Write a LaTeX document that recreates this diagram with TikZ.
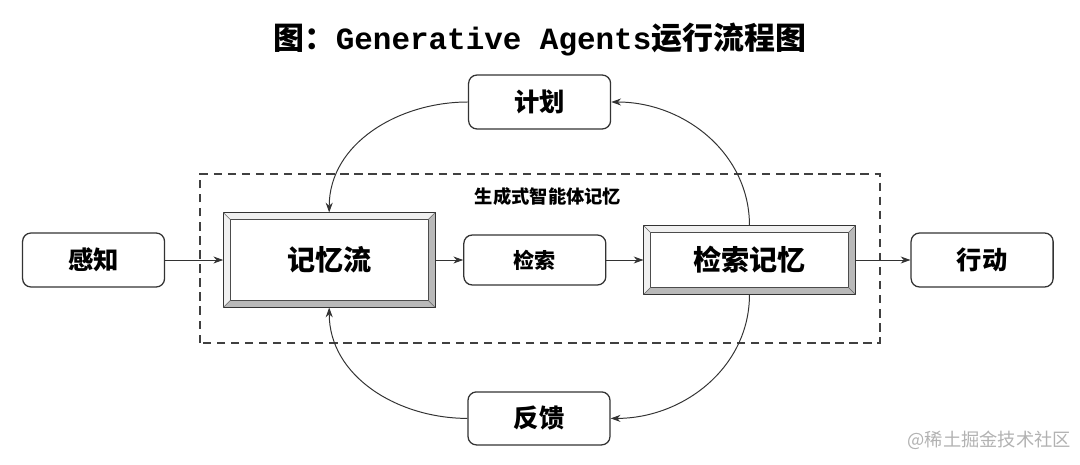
\documentclass[tikz,border=0pt]{standalone}
\usepackage{fontspec}
\setmainfont{Noto Sans CJK SC}
\setmonofont{Liberation Mono}
\usetikzlibrary{positioning,calc,arrows.meta}

\tikzset{
	roundbox/.style={draw=black!80, line width=0.9pt, rounded corners=6pt, fill=white,
		minimum width=3.55cm, minimum height=1.35cm, inner sep=0pt,
		font=\bfseries\fontsize{18}{20}\selectfont},
	bevelnode/.style={minimum width=5.3cm, inner sep=0pt, outer sep=0pt,
		font=\bfseries\fontsize{20}{22}\selectfont},
	flow/.style={-{Stealth[length=7pt,width=5pt]}, line width=0.7pt, black!80},
}

\newcommand{\bevelframe}[1]{%
	\fill[gray!12] (#1.south west) -- (#1.north west) -- (#1.north east)
		-- ($(#1.north east)+(-0.18,-0.18)$) -- ($(#1.north west)+(0.18,-0.18)$)
		-- ($(#1.south west)+(0.18,0.18)$) -- cycle;
	\fill[gray!55] (#1.south west) -- ($(#1.south west)+(0.18,0.18)$)
		-- ($(#1.south east)+(-0.18,0.18)$) -- ($(#1.north east)+(-0.18,-0.18)$)
		-- (#1.north east) -- (#1.south east) -- cycle;
	\draw[line width=0.7pt, black!80] (#1.south west) rectangle (#1.north east);
	\draw[line width=0.5pt, black!70] ($(#1.south west)+(0.18,0.18)$) rectangle ($(#1.north east)+(-0.18,-0.18)$);
	\draw[line width=0.4pt, black!60] (#1.south west) -- ++(0.18,0.18)
		(#1.north west) -- ++(0.18,-0.18) (#1.north east) -- ++(-0.18,-0.18)
		(#1.south east) -- ++(-0.18,0.18);
}

\begin{document}
\begin{tikzpicture}
	\useasboundingbox (0,0) rectangle (27,11.6);
	
	\node[font=\bfseries\fontsize{22}{26}\selectfont] (title) at (13.5,10.6) {图：{\ttfamily\bfseries Generative Agents}运行流程图};
	
	% agent memory frame
	\draw[dashed, line width=0.8pt, black!75, dash pattern=on 6pt off 4pt] (5,3.025) rectangle (22,7.25);
	\node[font=\bfseries\fontsize{13}{15}\selectfont] (agentmem) at (13.7,6.675) {生成式智能体记忆};
	
	\node[bevelnode, minimum height=2.375cm] (stream) at (8.23,5.1) {记忆流};
	\bevelframe{stream}
	\node[roundbox, left=1.45cm of stream] (perceive) {感知};
	\node[roundbox, minimum height=1.25cm, font=\bfseries\fontsize{15}{17}\selectfont, right=0.7cm of stream] (retrieve) {检索};
	\node[bevelnode, minimum height=1.725cm, right=0.925cm of retrieve] (retrieved) {检索记忆};
	\bevelframe{retrieved}
	\node[roundbox, right=1.375cm of retrieved] (act) {行动};
	\node[roundbox] (plan) at (13.49,9.05) {计划};
	\node[roundbox, minimum height=1.325cm] (reflect) at (13.475,1.14) {反馈};
	
	\node[text=gray!60, font=\fontsize{13}{15}\selectfont, anchor=east] (mark) at (26.9,0.6) {@稀土掘金技术社区};
	
	\draw[flow] (perceive) -- (stream);
	\draw[flow] (stream) -- (retrieve);
	\draw[flow] (retrieve) -- (retrieved);
	\draw[flow] (retrieved) -- (act);
	\draw[flow] (plan.west) to[out=180, in=90] (stream.north);
	\draw[flow] (retrieved.north) to[out=90, in=0] (plan.east);
	\draw[flow] (retrieved.south) to[out=-90, in=0] (reflect.east);
	\draw[flow] (reflect.west) to[out=180, in=-90] (stream.south);
\end{tikzpicture}
\end{document}
